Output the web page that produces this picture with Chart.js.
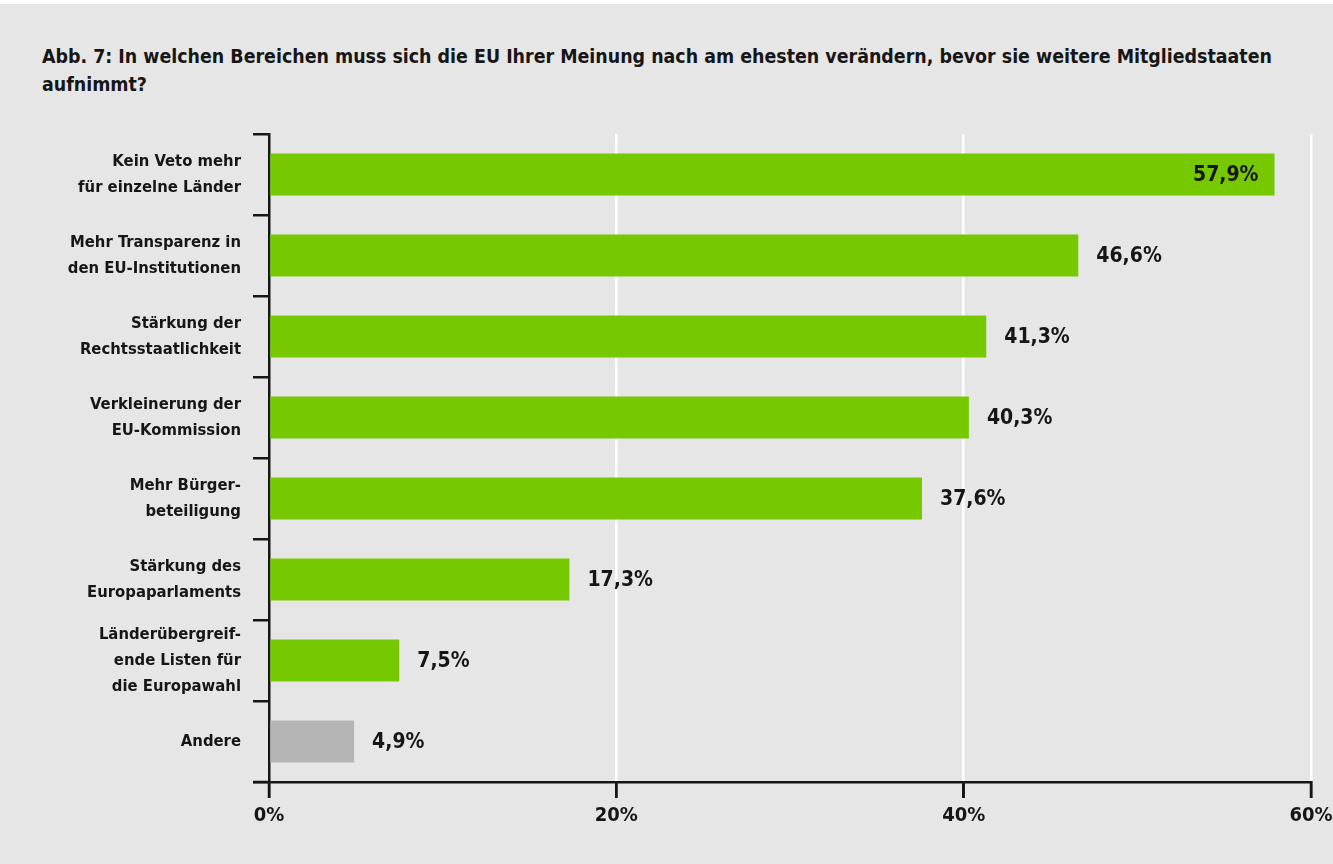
<!DOCTYPE html>
<html>
<head>
<meta charset="utf-8">
<script src="https://cdn.jsdelivr.net/npm/chart.js@4.4.1/dist/chart.umd.min.js"></script>
<style>
  html, body { margin: 0; padding: 0; background: #fff; }
  #wrap { position: absolute; left: 0; top: 4px; width: 1333px; height: 860px; background: #e6e6e6; }
  #title { position: absolute; left: 42px; top: 39px; font-family: "DejaVu Sans", sans-serif; font-stretch: condensed;
    font-weight: bold; font-size: 19.4px; line-height: 28px; color: #161616; white-space: nowrap; }
  #c { position: absolute; left: 0; top: -4px; }
</style>
</head>
<body>
<div id="wrap">
  <div id="title">Abb. 7: In welchen Bereichen muss sich die EU Ihrer Meinung nach am ehesten verändern, bevor sie weitere Mitgliedstaaten<br>aufnimmt?</div>
  <canvas id="c" width="1333" height="864"></canvas>
</div>
<script>
const categories = [
  ["Kein Veto mehr", "für einzelne Länder"],
  ["Mehr Transparenz in", "den EU-Institutionen"],
  ["Stärkung der", "Rechtsstaatlichkeit"],
  ["Verkleinerung der", "EU-Kommission"],
  ["Mehr Bürger-", "beteiligung"],
  ["Stärkung des", "Europaparlaments"],
  ["Länderübergreif-", "ende Listen für", "die Europawahl"],
  ["Andere"]
];
const values = [57.9, 46.6, 41.3, 40.3, 37.6, 17.3, 7.5, 4.9];
const xTicks = [0, 20, 40, 60];

const FONT = "'DejaVu Sans Condensed', 'DejaVu Sans', sans-serif";
const GREEN = "#76c800";
const GREY = "#b5b5b5";
const INK = "#161616";
const TICK = 16;

// percentage next to (or inside) each bar
const valueLabels = {
  id: "valueLabels",
  afterDatasetsDraw(chart) {
    const ctx = chart.ctx;
    const meta = chart.getDatasetMeta(0);
    ctx.save();
    ctx.font = "bold 21px " + FONT;
    ctx.fillStyle = INK;
    ctx.textBaseline = "middle";
    meta.data.forEach((bar, i) => {
      const txt = values[i].toFixed(1).replace(".", ",") + "%";
      if (values[i] > 55) {
        ctx.textAlign = "right";
        ctx.fillText(txt, bar.x - 16, bar.y + 1);
      } else {
        ctx.textAlign = "left";
        ctx.fillText(txt, bar.x + 18, bar.y + 1);
      }
    });
    ctx.restore();
  }
};

// tick marks under the x axis and the corner tick left of the axis
const axisTicks = {
  id: "axisTicks",
  afterDraw(chart) {
    const ctx = chart.ctx;
    const xs = chart.scales.x;
    const area = chart.chartArea;
    ctx.save();
    ctx.strokeStyle = INK;
    ctx.lineWidth = 2.5;
    ctx.beginPath();
    xTicks.forEach(v => {
      const px = xs.getPixelForValue(v);
      ctx.moveTo(px, area.bottom - 1);
      ctx.lineTo(px, area.bottom + TICK);
    });
    ctx.moveTo(area.left - TICK, area.bottom);
    ctx.lineTo(area.left + 1, area.bottom);
    ctx.stroke();
    ctx.restore();
  }
};

new Chart(document.getElementById("c"), {
  type: "bar",
  data: {
    labels: categories,
    datasets: [{
      data: values,
      backgroundColor: ctx => ctx.dataIndex === categories.length - 1 ? GREY : GREEN,
      categoryPercentage: 1,
      barPercentage: 0.52
    }]
  },
  options: {
    indexAxis: "y",
    responsive: false,
    animation: false,
    layout: { padding: { left: 0, top: 134, right: 22, bottom: 0 } },
    plugins: { legend: { display: false }, tooltip: { enabled: false } },
    scales: {
      x: {
        min: 0, max: 60,
        afterBuildTicks: axis => { axis.ticks = xTicks.map(v => ({ value: v })); },
        afterFit: axis => { axis.height = 82; axis.paddingRight = 0; axis.paddingLeft = 0; },
        grid: {
          color: c => c.tick && c.tick.value === 0 ? "rgba(0,0,0,0)" : "#ffffff",
          lineWidth: 2.5,
          tickColor: INK,
          tickLength: TICK
        },
        border: { color: INK, width: 2.5 },
        ticks: {
          color: INK,
          padding: 6,
          font: { family: FONT, weight: "bold", size: 20 },
          callback: v => v + "%"
        }
      },
      y: {
        afterFit: axis => { axis.width = 269; },
        grid: {
          drawOnChartArea: false,
          offset: true,
          color: INK,
          tickLength: TICK,
          lineWidth: 2.5
        },
        border: { color: INK, width: 2.5 },
        ticks: {
          autoSkip: false,
          color: INK,
          padding: 12,
          font: { family: FONT, weight: "bold", size: 16.5, lineHeight: 1.56 }
        }
      }
    }
  },
  plugins: [valueLabels, axisTicks]
});
</script>
</body>
</html>
